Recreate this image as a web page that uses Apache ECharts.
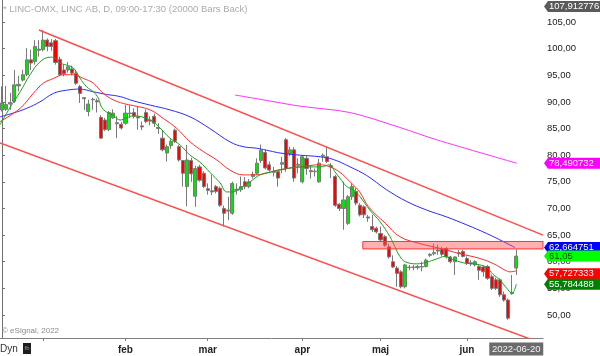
<!DOCTYPE html>
<html><head><meta charset="utf-8">
<script src="https://cdn.jsdelivr.net/npm/echarts@6/dist/echarts.min.js"></script>
<style>html,body{margin:0;padding:0;background:#fff;overflow:hidden}#c{width:600px;height:356px}</style>
</head><body><div id="c"></div>
<script>
// ---- data (bar index 0 = 2021-12-16, index 125 = 2022-06-20) ----
const monthTickIdx = [10, 30, 50, 73, 92, 113];
const monthLabels = ['', 'feb', 'mar', 'apr', 'maj', 'jun'];
const lastDateLabel = '2022-06-20';
const yTickValues = [50, 55, 60, 65, 70, 75, 80, 85, 90, 95, 100, 105];

const opens = [
 88.5, 88.6, 89.6, 90.1, 93.0, 94.1, 95.1, 97.9, 97.6, 99.9,
 99.8, 101.6, 101.1, 101.5, 98.0, 96.0, 96.0, 96.2, 95.4, 92.9,
 90.8, 88.2, 90.5, 90.2, 87.1, 86.6, 84.8, 87.0, 86.1, 85.8,
 86.0, 87.9, 88.0, 87.2, 85.5, 88.0, 86.6, 87.3, 85.2, 83.2,
 80.4, 81.8, 84.7, 81.6, 79.0, 74.1, 79.0, 72.3, 77.8, 76.6,
 73.7, 73.3, 74.1, 73.8, 70.0, 69.5, 69.1, 73.4, 73.5, 75.0,
 74.1, 76.0, 76.6, 79.0, 80.5, 78.2, 77.0, 76.9, 78.3, 82.9,
 80.3, 81.0, 78.1, 75.0, 79.4, 77.1, 76.9, 75.0, 79.8, 79.7,
 78.0, 76.0, 70.8, 70.0, 67.2, 72.2, 73.2, 70.6, 70.3, 68.4,
 66.6, 66.3, 65.3, 64.7, 62.8, 60.0, 58.8, 58.1, 55.3, 58.9,
 59.0, 58.9, 59.0, 59.1, 61.2, 61.5, 62.0, 62.3, 62.5, 60.9,
 60.0, 61.5, 61.9, 60.6, 59.8, 59.4, 59.1, 59.0, 59.1, 57.2,
 56.6, 56.6, 53.8, 52.8, 54.0, 58.8];
const closes = [
 89.8, 89.5, 89.9, 93.2, 93.3, 95.1, 97.9, 97.3, 100.4, 99.7,
 101.6, 100.4, 100.4, 97.4, 95.1, 95.3, 96.6, 95.4, 93.5, 91.6,
 90.6, 89.6, 90.4, 90.0, 83.2, 84.8, 88.0, 87.9, 85.9, 85.1,
 87.9, 87.8, 87.3, 87.0, 85.3, 86.3, 86.4, 86.0, 85.0, 81.0,
 81.6, 82.6, 82.6, 79.1, 76.6, 79.1, 76.5, 77.5, 75.3, 74.1,
 73.4, 73.1, 73.2, 70.6, 69.1, 69.7, 74.7, 73.6, 74.1, 74.1,
 75.0, 76.4, 78.5, 80.9, 77.6, 77.2, 76.8, 75.7, 78.6, 77.5,
 81.0, 75.7, 78.3, 79.7, 77.5, 76.9, 77.0, 78.5, 80.0, 78.8,
 77.8, 70.6, 70.0, 71.6, 72.2, 74.1, 71.0, 68.8, 68.8, 68.2,
 66.0, 65.6, 64.1, 63.1, 60.9, 59.0, 57.8, 55.3, 59.4, 59.0,
 58.9, 59.1, 59.1, 60.3, 61.4, 61.7, 62.2, 61.4, 60.9, 60.0,
 60.9, 61.7, 61.0, 59.7, 59.6, 60.0, 58.4, 58.1, 56.9, 55.0,
 55.0, 53.8, 52.8, 49.4, 54.2, 61.05];
const lows = [
 88.2, 88.3, 88.5, 89.8, 92.0, 93.8, 94.8, 96.0, 97.0, 98.5,
 99.5, 99.5, 99.6, 97.0, 94.8, 94.8, 95.5, 95.0, 93.2, 89.8,
 88.5, 87.3, 88.5, 88.0, 83.1, 84.5, 84.5, 86.8, 83.2, 84.8,
 85.7, 87.0, 86.9, 84.8, 84.7, 86.0, 85.6, 85.3, 84.0, 80.7,
 78.8, 81.2, 82.3, 78.8, 74.1, 70.4, 75.0, 70.3, 75.0, 73.8,
 72.6, 72.5, 72.8, 70.3, 66.6, 67.8, 68.8, 72.6, 73.1, 73.6,
 73.8, 75.6, 76.3, 78.5, 77.3, 76.9, 76.0, 74.1, 76.6, 76.9,
 79.8, 75.0, 76.6, 74.7, 76.3, 75.6, 76.0, 74.8, 78.8, 78.5,
 75.7, 70.3, 69.5, 66.0, 66.9, 71.6, 70.6, 68.5, 68.2, 67.5,
 65.6, 65.3, 63.8, 62.8, 60.6, 58.8, 55.3, 55.0, 55.0, 58.4,
 58.4, 58.5, 58.2, 58.9, 60.9, 61.2, 61.3, 61.0, 60.6, 59.7,
 57.5, 60.9, 60.8, 59.4, 59.2, 59.1, 56.6, 57.2, 56.6, 54.7,
 54.7, 53.4, 52.5, 49.1, 53.8, 57.5];
const highs = [
 92.9, 93.0, 91.7, 96.0, 94.9, 96.0, 100.1, 99.8, 101.6, 101.6,
 103.5, 101.9, 101.8, 101.8, 98.5, 97.0, 97.5, 96.8, 96.0, 93.2,
 90.9, 90.4, 90.8, 90.6, 87.5, 87.0, 88.3, 88.6, 87.3, 86.2,
 89.4, 89.4, 88.8, 89.1, 86.3, 88.6, 87.3, 87.8, 86.0, 84.7,
 82.0, 83.0, 85.0, 81.9, 79.1, 81.9, 79.5, 78.0, 78.2, 77.0,
 74.7, 76.3, 74.4, 74.1, 70.5, 72.2, 75.0, 74.7, 76.0, 75.9,
 75.5, 76.9, 79.4, 82.0, 81.0, 78.8, 77.8, 77.2, 79.7, 83.2,
 81.6, 81.5, 79.4, 80.0, 79.8, 78.0, 77.5, 79.3, 80.3, 81.6,
 78.5, 76.3, 71.0, 75.0, 72.5, 74.7, 73.8, 71.0, 70.6, 68.8,
 68.8, 66.6, 66.6, 65.0, 63.4, 61.2, 59.2, 58.4, 59.6, 59.4,
 59.4, 59.4, 60.0, 60.6, 61.6, 63.4, 63.2, 62.8, 62.7, 61.1,
 61.0, 62.2, 62.2, 61.0, 60.3, 60.3, 59.4, 59.3, 59.4, 57.6,
 57.0, 56.9, 54.4, 53.1, 57.5, 62.3];

// moving averages: [bar index, value]
const maGreen = [[-0.5,85.7],[1.9,88.9],[4.4,91.9],[6.8,95.1],[9.2,97.5],[11.7,98.4],[12.9,98.2],[14.1,97.3],[15.7,96.9],[17.3,96.4],[18.9,94.5],[20.6,92.8],[22.2,91.9],[23.4,90.7],[24.2,89.0],[25.4,88.1],[27,87.5],[28.7,86.6],[30.3,87.0],[31.9,87.4],[36,86.6],[38.4,85.1],[40.8,83.2],[43.3,81.9],[45.7,80.0],[48.1,78.7],[50.5,76.8],[53,74.8],[54.6,73.1],[56.2,73.1],[57.8,73.8],[60.3,75.0],[62.7,76.3],[65.1,76.8],[67.6,77.2],[72.4,77.8],[77.3,77.8],[79.7,78.2],[80.9,76.9],[82.1,75.7],[83.8,74.1],[85.4,73.5],[87,72.2],[89.4,69.7],[91.9,67.5],[94.3,64.7],[95.5,62.8],[96.7,61.0],[98,60.0],[100.8,59.6],[103.2,59.9],[105.6,60.5],[107.7,61.0],[109.3,60.5],[112.1,59.8],[114.5,59.6],[116.2,59.4],[117.8,58.9],[119.4,57.6],[121,56.6],[122.7,55.0],[123.9,54.2],[124.4,54.4],[125,55.78]];
const maRed = [[-0.5,86.3],[4.4,88.8],[7.6,91.6],[10,93.5],[12.5,94.4],[14.9,95.1],[17.3,95.1],[19.8,94.4],[22.2,93.5],[24.6,91.6],[27,90.4],[29.5,89.7],[31.9,89.3],[36,88.5],[39.2,86.9],[42.5,85.0],[45.7,82.5],[48.9,80.7],[52.2,79.1],[55.4,77.2],[58.6,76.3],[61.9,76.3],[65.1,76.8],[67.6,77.3],[72.4,77.8],[77.3,78.2],[79.7,77.8],[82.1,76.8],[84.6,75.0],[87,73.0],[89.1,70.3],[93.2,67.2],[96.7,64.7],[101.6,63.4],[106.5,62.5],[111.3,61.5],[116.2,60.6],[119.8,59.5],[122.3,58.4],[123.5,58.1],[125,58.3]];
const maBlue = [[-0.5,87.2],[2.7,87.9],[6,88.8],[9.2,90.0],[12.5,91.6],[15.7,92.2],[18.9,92.4],[22.2,91.9],[25.4,91.4],[28.7,91.0],[31.9,90.2],[36,89.4],[40.8,88.5],[45.7,87.2],[50.5,85.0],[55.4,82.5],[58.6,81.6],[61.9,81.3],[65.1,80.8],[67.6,80.4],[72.4,80.0],[77.3,79.7],[80.5,79.2],[84.6,77.8],[88.6,76.2],[93.5,73.5],[98.4,71.3],[103.2,69.7],[108.1,68.4],[113,66.9],[117.8,65.3],[121.8,63.8],[124.7,62.66]];
const maMagenta = [[56.6,91.3],[63.4,90.4],[72.4,89.2],[84.6,88.0],[96.7,85.2],[105.6,82.9],[125.1,78.49]];
const channelUpper = [[8.98,103.5],[131.5,65.0]];
const channelLower = [[-0.5,82.29],[131.5,44.6]];
const resistanceZone = {fromIdx: 87.7, toIdx: 131.5, top: 63.8, bottom: 62.4};

const tagValues = [107.912776, 78.490732, 62.664751, 61.05, 57.727333, 55.784488];
const tagLabels = ['107,912776', '78,490732', '62,664751', '61,05', '57,727333', '55,784488'];
const tagFill = ['#5a5a5a', '#ff00ff', '#0000ff', '#00ff00', '#ff0000', '#008000'];
const tagText = ['#ffffff', '#ffffff', '#ffffff', '#004400', '#ffffff', '#ffffff'];

// ---- chart ----
const FONT = '"Liberation Sans", Arial, sans-serif';
const candleData = opens.map((o, i) => [i, o, closes[i], lows[i], highs[i]]);
const chart = echarts.init(document.getElementById('c'), null, {renderer: 'canvas'});

const lineS = (name, data, color, width, smooth) => ({
  name, type: 'line', data, smooth: smooth, symbol: 'none', silent: true,
  lineStyle: {color, width}, z: 5, animation: false
});

chart.setOption({
  animation: false,
  backgroundColor: '#ffffff',
  grid: {left: 0, right: 57, top: 0, bottom: 18, outerBoundsMode: 'none', containLabel: false},
  xAxis: {
    type: 'value', min: -0.5, max: 131.5,
    axisLine: {show: true, onZero: false, lineStyle: {color: '#808080', width: 1}},
    axisTick: {show: true, inside: false, length: 3, customValues: monthTickIdx, lineStyle: {color: '#808080'}},
    axisLabel: {
      customValues: monthTickIdx, margin: 7, color: '#222', fontSize: 10, fontWeight: 'bold', fontFamily: FONT,
      formatter: v => monthLabels[monthTickIdx.indexOf(Math.round(v))] || ''
    },
    splitLine: {show: false}
  },
  yAxis: {
    type: 'value', position: 'right', min: 45.68, max: 109.13,
    axisLine: {show: true, lineStyle: {color: '#707070', width: 1}},
    axisTick: {show: true, length: 3, customValues: yTickValues, lineStyle: {color: '#707070'}},
    axisLabel: {
      customValues: yTickValues, margin: 4, color: '#222', fontSize: 9.5, fontFamily: FONT,
      formatter: v => v.toFixed(2).replace('.', ',')
    },
    splitLine: {show: false}
  },
  series: [
    {
      type: 'candlestick', data: candleData, encode: {x: 0, y: [1, 2, 3, 4]},
      barWidth: 3.6, z: 3,
      itemStyle: {color: '#00e600', color0: '#ff0000', borderColor: '#7a7a7a', borderColor0: '#7a7a7a', borderWidth: 1}
    },
    lineS('upper', channelUpper, '#ff4d4d', 1.5, false),
    Object.assign(lineS('lower', channelLower, '#ff4d4d', 1.5, false), {
      markArea: {
        silent: true, z: 8,
        itemStyle: {color: 'rgba(255,80,80,0.45)', borderColor: '#ff3333', borderWidth: 1},
        data: [[{xAxis: resistanceZone.fromIdx, yAxis: resistanceZone.top}, {xAxis: resistanceZone.toIdx, yAxis: resistanceZone.bottom}]]
      }
    }),
    lineS('ma200', maMagenta, '#ff33ff', 1, 0.3),
    lineS('ma50', maBlue, '#2b2bff', 1, 0.4),
    lineS('ma20', maRed, '#ff2a2a', 1, 0.4),
    lineS('ma10', maGreen, '#1f9f1f', 1, 0.4)
  ]
});

// tags on the price scale and the date tag, positioned through the axes
const axX = chart.convertToPixel({xAxisIndex: 0}, 131.5);
const g = [];
tagValues.forEach((v, i) => {
  const y = chart.convertToPixel({yAxisIndex: 0}, v);
  const h = 5.5, x0 = axX + 1;
  g.push({type: 'polygon', z: 100, shape: {points: [[x0, y], [x0 + 4, y - h], [600, y - h], [600, y + h], [x0 + 4, y + h]]}, style: {fill: tagFill[i]}});
  g.push({type: 'text', z: 101, x: x0 + 5, y: y, style: {text: tagLabels[i], fill: tagText[i], font: '9.5px ' + FONT, verticalAlign: 'middle', align: 'left'}});
});
const dx = chart.convertToPixel({xAxisIndex: 0}, 125);
g.push({type: 'rect', z: 100, shape: {x: dx - 27, y: 342.5, width: 54, height: 13}, style: {fill: '#6b6b6b'}});
g.push({type: 'text', z: 101, x: dx, y: 349, style: {text: lastDateLabel, fill: '#f2f2f2', font: '9.5px ' + FONT, align: 'center', verticalAlign: 'middle'}});
// header / footer texts
g.push({type: 'text', z: 101, x: 3, y: 9, style: {text: '* LINC-OMX, LINC AB, D, 09:00-17:30 (20000 Bars Back)', fill: '#ababab', font: '9.5px ' + FONT, verticalAlign: 'middle'}});
g.push({type: 'text', z: 101, x: 2, y: 331, style: {text: '\u00a9 eSignal, 2022', fill: '#8a8a8a', font: '8px ' + FONT, verticalAlign: 'middle'}});
g.push({type: 'text', z: 101, x: 0, y: 349, style: {text: 'Dyn', fill: '#333', font: '10px ' + FONT, verticalAlign: 'middle'}});
g.push({type: 'rect', z: 100, shape: {x: 23, y: 343, width: 8, height: 11}, style: {fill: '#1e1e1e'}});
g.push({type: 'text', z: 101, x: 27, y: 348.5, style: {text: 'fb', fill: '#9a9a9a', font: '6px ' + FONT, align: 'center', verticalAlign: 'middle'}});
chart.setOption({graphic: g});
</script>
</body></html>
